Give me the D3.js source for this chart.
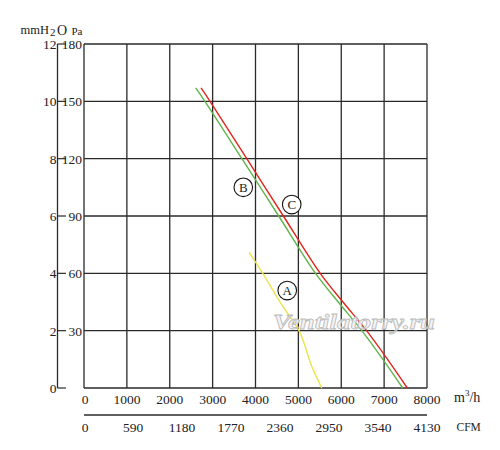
<!DOCTYPE html>
<html>
<head>
<meta charset="utf-8">
<script src="https://cdn.jsdelivr.net/npm/d3@7"></script>
<style>
  body { margin: 0; background: #fff; }
  text { font-family: "Liberation Serif", "DejaVu Serif", serif; fill: #222; }
</style>
</head>
<body>
<div id="vis"></div>
<script>
// tick values
const flowTicks = [0, 1000, 2000, 3000, 4000, 5000, 6000, 7000, 8000];
const cfmTicks = [0, 590, 1180, 1770, 2360, 2950, 3540, 4130];
const paTicks = [0, 30, 60, 90, 120, 150, 180];
const mmTicks = [0, 2, 4, 6, 8, 10, 12];

// curves (flow m3/h, pressure Pa)
const flowA = [3850, 4170, 4600, 5015, 5140, 5300, 5545];
const paA = [71, 60, 44, 30, 23, 12, 0];
const flowB = [2605, 2820, 3683, 4541, 5400, 5930, 6480, 6970, 7433];
const paB = [157, 150, 120, 90, 60, 45, 30, 15, 0];
const flowC = [2730, 2940, 3797, 4650, 5510, 6040, 6590, 7080, 7541];
const paC = [157, 150, 120, 90, 60, 45, 30, 15, 0];

// label positions of the circled letters (flow, Pa)
const labels = [
  { name: 'A', flow: 4740, pa: 51 },
  { name: 'B', flow: 3715, pa: 105 },
  { name: 'C', flow: 4845, pa: 96 }
];

const svg = d3.select('#vis')
  .append('svg')
  .attr('width', 500)
  .attr('height', 450);

svg.append('rect').attr('width', 500).attr('height', 450).attr('fill', '#fff');

const x = d3.scaleLinear().domain([0, 8000]).range([84, 427]);
const xCfm = d3.scaleLinear().domain([0, 4130]).range([84, 427]);
const y = d3.scaleLinear().domain([0, 180]).range([388, 44]);
const yMm = d3.scaleLinear().domain([0, 12]).range([388, 44]);

// grid
svg.selectAll('.vgrid')
  .data(flowTicks)
  .enter()
  .append('line')
  .attr('class', 'vgrid')
  .attr('x1', d => x(d))
  .attr('x2', d => x(d))
  .attr('y1', y(180))
  .attr('y2', y(0))
  .attr('stroke', '#2a2a2a')
  .attr('stroke-width', 1.3);

svg.selectAll('.hgrid')
  .data(paTicks)
  .enter()
  .append('line')
  .attr('class', 'hgrid')
  .attr('x1', x(0))
  .attr('x2', x(8000))
  .attr('y1', d => y(d))
  .attr('y2', d => y(d))
  .attr('stroke', '#2a2a2a')
  .attr('stroke-width', 1.3);

// left mmH2O axis
svg.append('line')
  .attr('x1', 57.5).attr('x2', 57.5)
  .attr('y1', yMm(12)).attr('y2', yMm(0))
  .attr('stroke', '#2a2a2a')
  .attr('stroke-width', 1.3);

svg.selectAll('.mmtick')
  .data(mmTicks)
  .enter()
  .append('line')
  .attr('class', 'mmtick')
  .attr('x1', 57.5)
  .attr('x2', 66)
  .attr('y1', d => yMm(d))
  .attr('y2', d => yMm(d))
  .attr('stroke', '#2a2a2a')
  .attr('stroke-width', 1.2);

svg.selectAll('.mmlabel')
  .data(mmTicks)
  .enter()
  .append('text')
  .attr('class', 'mmlabel')
  .attr('x', 56.5)
  .attr('y', d => yMm(d) + 5)
  .attr('text-anchor', 'end')
  .attr('font-size', 13.5)
  .text(d => d);

svg.selectAll('.palabel')
  .data(paTicks.filter(d => d > 0))
  .enter()
  .append('text')
  .attr('class', 'palabel')
  .attr('x', 82)
  .attr('y', d => y(d) + 5)
  .attr('text-anchor', 'end')
  .attr('font-size', 13.5)
  .text(d => d);

// bottom labels
svg.selectAll('.flowlabel')
  .data(flowTicks)
  .enter()
  .append('text')
  .attr('class', 'flowlabel')
  .attr('x', d => x(d) + (d === 0 ? 1 : 0))
  .attr('y', 403.5)
  .attr('text-anchor', 'middle')
  .attr('font-size', 13.5)
  .text(d => d);

svg.append('line')
  .attr('x1', x(0)).attr('x2', x(8000))
  .attr('y1', 415).attr('y2', 415)
  .attr('stroke', '#2a2a2a')
  .attr('stroke-width', 1.3);

svg.selectAll('.cfmlabel')
  .data(cfmTicks)
  .enter()
  .append('text')
  .attr('class', 'cfmlabel')
  .attr('x', d => xCfm(d) + (d === 0 ? 1 : 0))
  .attr('y', 432)
  .attr('text-anchor', 'middle')
  .attr('font-size', 13.5)
  .text(d => d);

// units
svg.append('text').attr('x', 20.5).attr('y', 34).attr('font-size', 12.5).text('mmH');
svg.append('text').attr('x', 50).attr('y', 36).attr('font-size', 11).text('2');
svg.append('text').attr('x', 57).attr('y', 35).attr('font-size', 14).text('O');
svg.append('text').attr('x', 71.5).attr('y', 35).attr('font-size', 11).text('Pa');

const mUnit = svg.append('text').attr('x', 454).attr('y', 402).attr('font-size', 14);
mUnit.append('tspan').text('m');
mUnit.append('tspan').attr('font-size', 9).attr('dy', -6).text('3');
mUnit.append('tspan').attr('dy', 6).text('/h');

svg.append('text').attr('x', 456.5).attr('y', 431).attr('font-size', 11.5).text('CFM');

// curves
const line = d3.line()
  .x(d => x(d[0]))
  .y(d => y(d[1]))
  .curve(d3.curveCatmullRom.alpha(0.5));

const curves = [
  { flow: flowA, pa: paA, color: '#ece54a' },
  { flow: flowB, pa: paB, color: '#5fb64a' },
  { flow: flowC, pa: paC, color: '#e0261c' }
];

svg.selectAll('.curve')
  .data(curves)
  .enter()
  .append('path')
  .attr('class', 'curve')
  .attr('d', c => line(c.flow.map((f, i) => [f, c.pa[i]])))
  .attr('fill', 'none')
  .attr('stroke', c => c.color)
  .attr('stroke-width', 1.4);

// watermark
svg.append('text')
  .attr('x', 273)
  .attr('y', 329)
  .attr('font-family', '"Liberation Sans", Arial, sans-serif')
  .attr('font-style', 'italic')
  .attr('font-weight', 'bold')
  .attr('font-size', 22)
  .attr('textLength', 162)
  .attr('lengthAdjust', 'spacingAndGlyphs')
  .attr('stroke', '#bcbcbc')
  .attr('stroke-width', 0.8)
  .style('fill', '#f2f2f2')
  .style('fill-opacity', 0.85)
  .text('Ventilatorry.ru');

// circled letters
const marks = svg.selectAll('.mark')
  .data(labels)
  .enter()
  .append('g')
  .attr('class', 'mark')
  .attr('transform', d => `translate(${x(d.flow)},${y(d.pa)})`);

marks.append('circle')
  .attr('r', 9.3)
  .attr('fill', '#fff')
  .attr('stroke', '#111')
  .attr('stroke-width', 1.1);

marks.append('text')
  .attr('text-anchor', 'middle')
  .attr('y', 4.6)
  .attr('font-size', 13)
  .text(d => d.name);
</script>
</body>
</html>
